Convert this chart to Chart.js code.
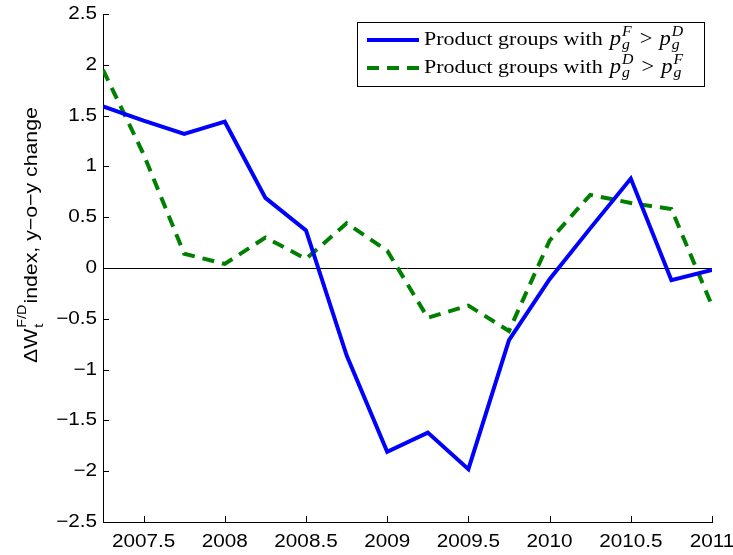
<!DOCTYPE html>
<html>
<head>
<meta charset="utf-8">
<script src="https://cdn.jsdelivr.net/npm/chart.js@4"></script>
<style>
  html, body { margin: 0; padding: 0; background: #fff; }
  #wrap { width: 733px; height: 555px; }
</style>
</head>
<body>
<div id="wrap"><canvas id="chart" width="733" height="555"></canvas></div>
<script>
// quarterly data
const quarters = [2007.25, 2007.5, 2007.75, 2008, 2008.25, 2008.5, 2008.75, 2009,
                  2009.25, 2009.5, 2009.75, 2010, 2010.25, 2010.5, 2010.75, 2011];
const foreignHigher = [1.59, 1.45, 1.32, 1.44, 0.69, 0.37, -0.86, -1.81,
                       -1.62, -1.98, -0.71, -0.11, 0.39, 0.88, -0.12, -0.02];
const domesticHigher = [1.95, 1.12, 0.14, 0.04, 0.30, 0.09, 0.44, 0.17,
                        -0.49, -0.37, -0.62, 0.27, 0.72, 0.64, 0.58, -0.37];
const xTicks = [2007.5, 2008, 2008.5, 2009, 2009.5, 2010, 2010.5, 2011];
const yTicks = [-2.5, -2, -1.5, -1, -0.5, 0, 0.5, 1, 1.5, 2, 2.5];

const SANS = '"Liberation Sans", Arial, sans-serif';
const SERIF = '"Liberation Serif", "DejaVu Serif", serif';
const STRETCH = 1.15; // the reference fonts are a bit wider than Arial/Times

function fmt(v) {
    const s = String(Math.abs(v));
    return v < 0 ? '\u2212' + s : s;
}

// draw text stretched horizontally, returns advance width
function sText(ctx, text, x, y, sx) {
    ctx.save();
    ctx.translate(x, y);
    ctx.scale(sx, 1);
    ctx.fillText(text, 0, 0);
    ctx.restore();
    return ctx.measureText(text).width * sx;
}

const decor = {
    id: 'decor',
    beforeDatasetsDraw(chart) {
        const { ctx, chartArea: a, scales: { y } } = chart;
        const y0 = Math.round(y.getPixelForValue(0)) + 0.5;
        ctx.save();
        ctx.strokeStyle = '#000';
        ctx.lineWidth = 1;
        ctx.beginPath();
        ctx.moveTo(a.left, y0);
        ctx.lineTo(a.right, y0);
        ctx.stroke();
        ctx.restore();
    },
    afterDraw(chart) {
        const { ctx, chartArea: a, scales: { x, y } } = chart;
        ctx.save();
        ctx.strokeStyle = '#000';
        ctx.lineWidth = 1;
        ctx.beginPath();
        yTicks.forEach(v => {
            const py = Math.round(y.getPixelForValue(v)) + 0.5;
            ctx.moveTo(a.left, py);
            ctx.lineTo(a.left + 6, py);
        });
        xTicks.forEach(v => {
            const px = Math.round(x.getPixelForValue(v)) + 0.5;
            ctx.moveTo(px, a.bottom);
            ctx.lineTo(px, a.bottom - 6);
        });
        ctx.stroke();

        // tick labels
        ctx.fillStyle = '#000';
        ctx.font = '18px ' + SANS;
        ctx.textBaseline = 'middle';
        ctx.textAlign = 'left';
        yTicks.forEach(v => {
            const t = fmt(v);
            const w = ctx.measureText(t).width * STRETCH;
            sText(ctx, t, a.left - 6 - w, y.getPixelForValue(v), STRETCH);
        });
        xTicks.forEach(v => {
            const t = fmt(v);
            const w = ctx.measureText(t).width * STRETCH;
            sText(ctx, t, x.getPixelForValue(v) - w / 2, a.bottom + 20, STRETCH);
        });

        // y axis title: ΔW_t^{F/D} index, y−o−y change
        ctx.save();
        ctx.translate(37, 363);
        ctx.rotate(-Math.PI / 2);
        ctx.textBaseline = 'alphabetic';
        ctx.font = '18.5px ' + SANS;
        let cx = 0;
        cx += sText(ctx, '\u0394W', cx, 0, STRETCH) + 1;
        ctx.font = '12.5px ' + SANS;
        const supW = sText(ctx, 'F/D', cx, -11, STRETCH);
        sText(ctx, 't', cx, 6, STRETCH);
        cx += supW + 1;
        ctx.font = '18.5px ' + SANS;
        sText(ctx, 'index, y\u2212o\u2212y change', cx, 0, STRETCH);
        ctx.restore();
        ctx.restore();

        drawLegend(ctx);
    }
};

function drawMath(ctx, x, base, supA, supB) {
    // "Product groups with p_g^A > p_g^B"
    const sx = 1.13;
    ctx.font = '19.5px ' + SERIF;
    x += sText(ctx, 'Product groups with', x, base, sx) + 7;
    [[supA, true], [supB, false]].forEach(([sup, first]) => {
        ctx.font = 'italic 20px ' + SERIF;
        x += sText(ctx, 'p', x, base, sx) + 1;
        ctx.font = 'italic 14px ' + SERIF;
        const w1 = sText(ctx, sup, x, base - 9, sx);
        const w2 = sText(ctx, 'g', x, base + 4, sx);
        x += Math.max(w1, w2);
        if (first) {
            x += 8;
            ctx.font = '20px ' + SERIF;
            x += sText(ctx, '>', x, base, sx) + 7;
        }
    });
}

function drawLegend(ctx) {
    ctx.save();
    ctx.fillStyle = '#fff';
    ctx.fillRect(357, 22, 347, 64);
    ctx.strokeStyle = '#000';
    ctx.lineWidth = 1;
    ctx.strokeRect(357.5, 22.5, 347, 64);

    ctx.lineWidth = 4;
    ctx.strokeStyle = '#0000ff';
    ctx.beginPath();
    ctx.moveTo(367, 40);
    ctx.lineTo(419, 40);
    ctx.stroke();
    ctx.strokeStyle = '#008000';
    ctx.setLineDash([12, 8]);
    ctx.beginPath();
    ctx.moveTo(367, 68);
    ctx.lineTo(419, 68);
    ctx.stroke();
    ctx.setLineDash([]);

    ctx.fillStyle = '#000';
    ctx.textAlign = 'left';
    ctx.textBaseline = 'alphabetic';
    drawMath(ctx, 424, 45, 'F', 'D');
    drawMath(ctx, 424, 73, 'D', 'F');
    ctx.restore();
}

const ctx = document.getElementById('chart').getContext('2d');
new Chart(ctx, {
    type: 'line',
    data: {
        datasets: [
            {
                label: 'Product groups with pF > pD',
                data: quarters.map((q, i) => ({ x: q, y: foreignHigher[i] })),
                borderColor: '#0000ff',
                borderWidth: 4,
                pointRadius: 0,
                tension: 0,
                fill: false
            },
            {
                label: 'Product groups with pD > pF',
                data: quarters.map((q, i) => ({ x: q, y: domesticHigher[i] })),
                borderColor: '#008000',
                borderWidth: 4,
                borderDash: [12, 8],
                pointRadius: 0,
                tension: 0,
                fill: false
            }
        ]
    },
    options: {
        responsive: false,
        animation: false,
        devicePixelRatio: 1,
        layout: { padding: { left: 0, top: 14, right: 21, bottom: 0 } },
        plugins: { legend: { display: false }, tooltip: { enabled: false } },
        scales: {
            x: {
                type: 'linear',
                min: 2007.25,
                max: 2011,
                afterBuildTicks: s => { s.ticks = xTicks.map(v => ({ value: v })); },
                afterFit: s => { s.height = 33; s.paddingLeft = 0; s.paddingRight = 0; },
                grid: { display: false, drawTicks: false },
                border: { display: true, color: '#000', width: 1 },
                ticks: { display: false }
            },
            y: {
                type: 'linear',
                min: -2.5,
                max: 2.5,
                afterBuildTicks: s => { s.ticks = yTicks.map(v => ({ value: v })); },
                afterFit: s => { s.width = 103; s.paddingTop = 0; s.paddingBottom = 0; },
                grid: { display: false, drawTicks: false },
                border: { display: true, color: '#000', width: 1 },
                ticks: { display: false }
            }
        }
    },
    plugins: [decor]
});
</script>
</body>
</html>
